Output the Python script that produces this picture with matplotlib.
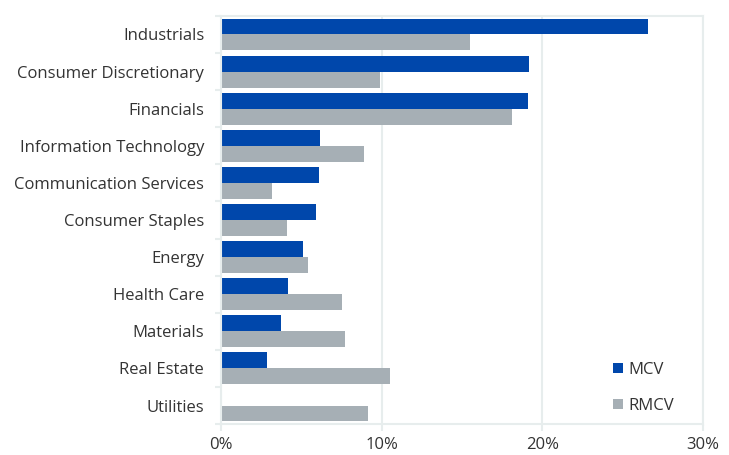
import numpy as np
import matplotlib.pyplot as plt
from matplotlib.ticker import FuncFormatter

plt.rcParams['font.family'] = ['Open Sans', 'DejaVu Sans']

# sector weights (%)
sectors = ['Industrials', 'Consumer Discretionary', 'Financials', 'Information Technology',
           'Communication Services', 'Consumer Staples', 'Energy', 'Health Care',
           'Materials', 'Real Estate', 'Utilities']
mcv = [26.6, 19.2, 19.1, 6.2, 6.1, 5.95, 5.1, 4.2, 3.75, 2.9, 0.0]
rmcv = [15.5, 9.9, 18.1, 8.9, 3.2, 4.1, 5.45, 7.55, 7.7, 10.5, 9.15]

blue = '#0047AB'
grey = '#A6AFB5'
grid_col = '#E7EDED'
text_col = '#333333'

fig = plt.figure(figsize=(7.29, 4.55), dpi=100)
ax = fig.add_axes([0.303, 0.068, 0.661, 0.897])

y = np.arange(len(sectors))
h = 0.43
ax.barh(y - h / 2, mcv, height=h, color=blue, label='MCV')
ax.barh(y + h / 2, rmcv, height=h, color=grey, label='RMCV')

ax.set_ylim(len(sectors) - 0.5, -0.5)
ax.set_xlim(0, 30)
ax.set_xticks([0, 10, 20, 30])
ax.xaxis.set_major_formatter(FuncFormatter(lambda v, p: f'{v:.0f}%'))
ax.set_yticks(y)
ax.set_yticklabels(sectors)
ax.set_yticks(np.arange(len(sectors) + 1) - 0.5, minor=True)

ax.grid(axis='x', color=grid_col, linewidth=1.5)
ax.set_axisbelow(True)
for s in ax.spines.values():
    s.set_color(grid_col)
    s.set_linewidth(1.5)

ax.tick_params(axis='y', which='major', length=0, pad=12, labelsize=12, labelcolor=text_col)
ax.tick_params(axis='y', which='minor', length=4, width=1.5, color=grid_col)
ax.tick_params(axis='x', length=5, width=1.5, color=grid_col, labelsize=12,
               labelcolor=text_col, pad=4)

ax.legend(loc='upper left', bbox_to_anchor=(0.814, 0.152), frameon=False,
          borderaxespad=0, borderpad=0,
          handlelength=0.6, handleheight=0.6, handletextpad=0.3,
          labelspacing=1.2, fontsize=12, labelcolor=text_col)

fig.savefig('out.png', dpi=100)
